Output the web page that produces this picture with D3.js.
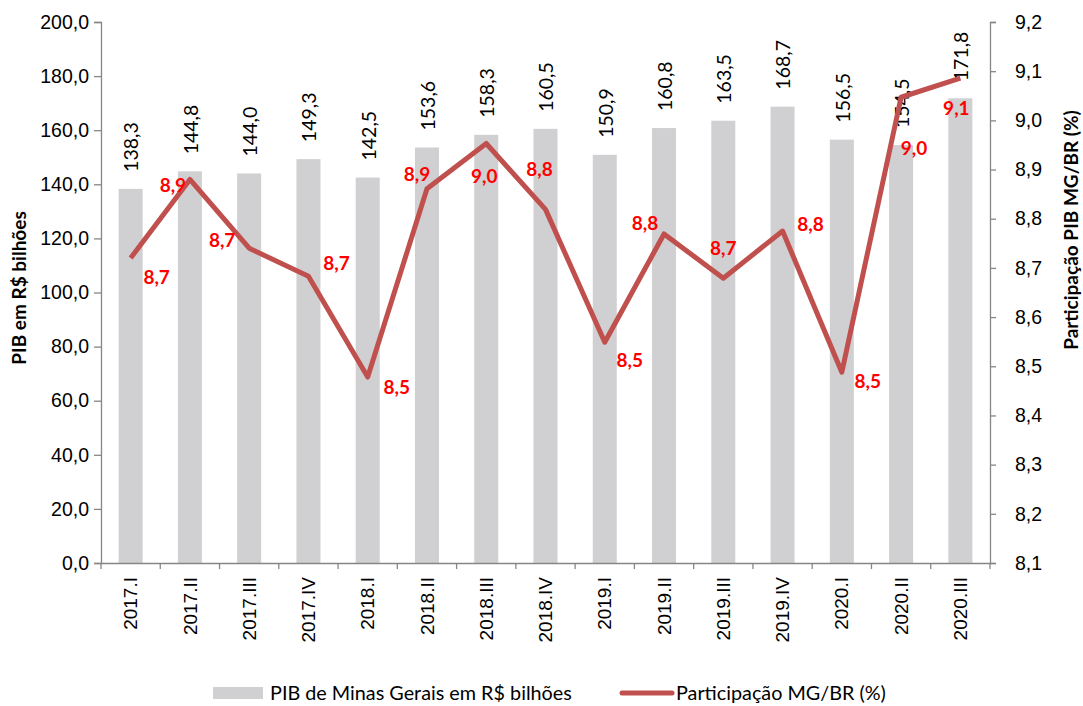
<!DOCTYPE html>
<html>
<head>
<meta charset="utf-8">
<script src="https://cdn.jsdelivr.net/npm/d3@7"></script>
<style>
  body { margin: 0; background: #fff; }
  svg { font-family: Lato, "Liberation Sans", sans-serif; }
</style>
</head>
<body>
<div id="chart"></div>
<script>
// data
const quarters = ['2017.I', '2017.II', '2017.III', '2017.IV', '2018.I', '2018.II', '2018.III', '2018.IV',
  '2019.I', '2019.II', '2019.III', '2019.IV', '2020.I', '2020.II', '2020.III'];
const pibMG = [138.3, 144.8, 144.0, 149.3, 142.5, 153.6, 158.3, 160.5, 150.9, 160.8, 163.5, 168.7, 156.5, 154.5, 171.8];
const shareMG = [8.72, 8.88, 8.74, 8.683, 8.478, 8.861, 8.953, 8.819, 8.549, 8.769, 8.679, 8.775, 8.488, 9.047, 9.086];
const leftTicks = [0, 20, 40, 60, 80, 100, 120, 140, 160, 180, 200];
const rightTicks = [8.1, 8.2, 8.3, 8.4, 8.5, 8.6, 8.7, 8.8, 8.9, 9.0, 9.1, 9.2];

// manual placement of the red labels (dx, dy from the point), like in the original sheet
const shareLabelOffset = [[26, 19], [-17, 6], [-27, -8], [28, -13], [29, 10], [-10, -14], [-2, 33], [-6, -40],
  [25, 18], [-19, -11], [0, -30], [28, -7], [26, 9], [13, 51], [-4, 30]];

const W = 1083, H = 706;
const plot = { left: 101, right: 990, top: 22, bottom: 563 };

const comma = v => d3.format('.1f')(v).replace('.', ',');

const svg = d3.select('#chart').append('svg')
  .attr('width', W)
  .attr('height', H);

// Scales
const x = d3.scaleBand()
  .domain(quarters)
  .range([plot.left, plot.right])
  .paddingInner(0.595)
  .paddingOuter(0.2975);

const yL = d3.scaleLinear().domain([0, 200]).range([plot.bottom, plot.top]);
const yR = d3.scaleLinear().domain([8.1, 9.2]).range([plot.bottom, plot.top]);

const axisColor = '#868686';

// Bars
svg.selectAll('.bar')
  .data(pibMG)
  .enter()
  .append('rect')
  .attr('class', 'bar')
  .attr('x', (d, i) => x(quarters[i]))
  .attr('width', x.bandwidth())
  .attr('y', d => yL(d))
  .attr('height', d => yL(0) - yL(d))
  .attr('fill', '#d0cfd1');

// Left axis
const gL = svg.append('g')
  .attr('transform', `translate(${plot.left},0)`)
  .call(d3.axisLeft(yL).tickValues(leftTicks).tickFormat(comma).tickSize(7).tickPadding(5));
gL.select('.domain').attr('stroke', axisColor).attr('stroke-width', 1.3);
gL.selectAll('.tick line').attr('stroke', axisColor).attr('stroke-width', 1.3);
gL.selectAll('.tick text')
  .style('font-size', '19.5px')
  .style('fill', '#000');

// Right axis
const gR = svg.append('g')
  .attr('transform', `translate(${plot.right},0)`)
  .call(d3.axisRight(yR).tickValues(rightTicks).tickFormat(comma).tickSize(6).tickPadding(19));
gR.select('.domain').attr('stroke', axisColor).attr('stroke-width', 1.3);
gR.selectAll('.tick line').attr('stroke', axisColor).attr('stroke-width', 1.3);
gR.selectAll('.tick text')
  .style('font-size', '19.5px')
  .style('fill', '#000');

// X axis (labels under each bar, ticks between categories)
const gX = svg.append('g')
  .attr('transform', `translate(0,${plot.bottom})`)
  .call(d3.axisBottom(x).tickSize(0));
gX.select('.domain').attr('stroke', axisColor).attr('stroke-width', 1.3);
gX.selectAll('.tick text')
  .attr('transform', 'rotate(-90)')
  .attr('x', -14)
  .attr('y', 0)
  .attr('dy', '0.35em')
  .style('text-anchor', 'end')
  .style('font-size', '19px')
  .style('fill', '#000');

svg.append('g')
  .selectAll('line')
  .data(d3.range(quarters.length + 1))
  .enter()
  .append('line')
  .attr('x1', i => plot.left + i * x.step())
  .attr('x2', i => plot.left + i * x.step())
  .attr('y1', plot.bottom)
  .attr('y2', plot.bottom + 6)
  .attr('stroke', axisColor)
  .attr('stroke-width', 1.3);

// Bar values
svg.selectAll('.bar-label')
  .data(pibMG)
  .enter()
  .append('text')
  .attr('class', 'bar-label')
  .attr('transform', (d, i) => `translate(${x(quarters[i]) + x.bandwidth() / 2 + 1},${yL(d) - 17}) rotate(-90)`)
  .attr('dy', '0.35em')
  .attr('text-anchor', 'start')
  .style('font-size', '19.5px')
  .style('fill', '#000')
  .text(d => comma(d));

// Share line
const line = d3.line()
  .x((d, i) => x(quarters[i]) + x.bandwidth() / 2)
  .y(d => yR(d));

svg.append('path')
  .datum(shareMG)
  .attr('d', line)
  .attr('fill', 'none')
  .attr('stroke', '#c0504d')
  .attr('stroke-width', 5)
  .attr('stroke-linejoin', 'round');

// Share labels
svg.selectAll('.share-label')
  .data(shareMG)
  .enter()
  .append('text')
  .attr('class', 'share-label')
  .attr('x', (d, i) => x(quarters[i]) + x.bandwidth() / 2 + shareLabelOffset[i][0])
  .attr('y', (d, i) => yR(d) + shareLabelOffset[i][1])
  .attr('dy', '0.35em')
  .attr('text-anchor', 'middle')
  .style('font-size', '19px')
  .style('font-weight', 'bold')
  .style('fill', '#ff0000')
  .text(d => comma(d));

// Axis titles
svg.append('text')
  .attr('transform', 'translate(19,288) rotate(-90)')
  .attr('text-anchor', 'middle')
  .attr('dy', '0.35em')
  .style('font-size', '19px')
  .style('font-weight', 'bold')
  .text('PIB em R$ bilhões');

svg.append('text')
  .attr('transform', 'translate(1071,230) rotate(-90)')
  .attr('text-anchor', 'middle')
  .attr('dy', '0.35em')
  .style('font-size', '19px')
  .style('font-weight', 'bold')
  .text('Participação PIB MG/BR (%)');

// Legend
const legY = 693;
svg.append('rect')
  .attr('x', 213)
  .attr('y', legY - 6)
  .attr('width', 50)
  .attr('height', 12)
  .attr('fill', '#d0cfd1');
svg.append('text')
  .attr('x', 270)
  .attr('y', legY)
  .attr('dy', '0.35em')
  .style('font-size', '19.8px')
  .text('PIB de Minas Gerais em R$ bilhões');

svg.append('line')
  .attr('x1', 622)
  .attr('x2', 672)
  .attr('y1', legY)
  .attr('y2', legY)
  .attr('stroke', '#c0504d')
  .attr('stroke-width', 5)
  .attr('stroke-linecap', 'round');
svg.append('text')
  .attr('x', 676)
  .attr('y', legY)
  .attr('dy', '0.35em')
  .style('font-size', '19.8px')
  .text('Participação MG/BR (%)');
</script>
</body>
</html>
